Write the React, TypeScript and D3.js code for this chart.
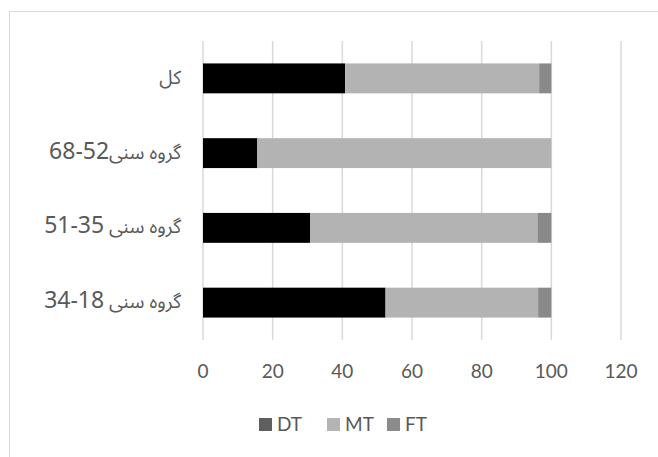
import { useEffect, useRef } from "react";
import * as d3 from "d3";

const categories = ["کل", "گروه سنی52-68", "گروه سنی 35-51", "گروه سنی 18-34"];
const seriesNames = ["DT", "MT", "FT"];
const dtValues = [40.8, 15.6, 30.8, 52.4];
const mtValues = [55.7, 84.4, 65.2, 43.8];
const ftValues = [3.5, 0, 4.0, 3.8];
const xTicks = [0, 20, 40, 60, 80, 100, 120];

const barColors = ["#000000", "#b3b3b3", "#898989"];
const legendColors = ["#5f5f5f", "#b4b4b4", "#8b8b8b"];

export default function App() {
  const ref = useRef<SVGSVGElement>(null);

  useEffect(() => {
    document.body.style.margin = "0";
    const svg = d3.select(ref.current!);
    svg.selectAll("*").remove();

    const w = 658,
      h = 457;
    const m = { top: 41, bottom: 340, left: 203, right: 621 };
    const textColor = "#595959";

    // outer frame
    svg
      .append("rect")
      .attr("x", 9.5)
      .attr("y", 11.5)
      .attr("width", w)
      .attr("height", h)
      .attr("fill", "#fff")
      .attr("stroke", "#d9d9d9");

    const x = d3.scaleLinear().domain([0, 120]).range([m.left, m.right]);
    const y = d3
      .scaleBand<string>()
      .domain(categories)
      .range([m.top, m.bottom])
      .paddingInner(0.6)
      .paddingOuter(0.3);

    /* ── GRID ─────────────────────────────── */
    svg
      .append("g")
      .selectAll("line")
      .data(xTicks)
      .join("line")
      .attr("x1", (d) => x(d))
      .attr("x2", (d) => x(d))
      .attr("y1", m.top)
      .attr("y2", m.bottom)
      .attr("stroke", "#d9d9d9")
      .attr("stroke-width", 1.5);

    svg
      .append("g")
      .selectAll("text")
      .data(xTicks)
      .join("text")
      .attr("x", (d) => x(d))
      .attr("y", 378)
      .attr("text-anchor", "middle")
      .attr("fill", textColor)
      .style("font-family", "Lato, 'Open Sans', sans-serif")
      .style("font-size", "19px")
      .text((d) => d);

    /* ── STACKED BARS ─────────────────────── */
    const rows = categories.map((c, i) => ({
      cat: c,
      DT: dtValues[i],
      MT: mtValues[i],
      FT: ftValues[i],
    }));
    const stacked = d3.stack<any>().keys(seriesNames)(rows);

    stacked.forEach((layer, si) => {
      svg
        .append("g")
        .selectAll("rect")
        .data(layer)
        .join("rect")
        .attr("x", (d) => x(d[0]))
        .attr("y", (d) => y(d.data.cat)!)
        .attr("width", (d) => x(d[1]) - x(d[0]))
        .attr("height", y.bandwidth())
        .attr("fill", barColors[si]);
    });

    // category labels: persian words a bit smaller than the digits
    const labels = svg
      .append("g")
      .selectAll("text")
      .data(categories)
      .join("text")
      .attr("x", 181)
      .attr("y", (d) => y(d)! + y.bandwidth() / 2)
      .attr("dy", "0.35em")
      .attr("direction", "rtl")
      .attr("text-anchor", "start")
      .attr("fill", textColor)
      .style("font-family", "'Noto Sans Arabic', 'Liberation Sans', Arial, sans-serif");
    labels.each(function (d) {
      const parts = d.match(/[^0-9]+|[0-9][0-9\-]*/g) || [d];
      const t = d3.select(this);
      parts.forEach((p) => {
        t.append("tspan")
          .style("font-size", /[0-9]/.test(p) ? "23px" : "19px")
          .text(p);
      });
    });

    /* ── LEGEND ───────────────────────────── */
    const legendX = [259, 327, 387];
    const lg = svg
      .append("g")
      .selectAll("g")
      .data(seriesNames)
      .join("g")
      .attr("transform", (_, i) => `translate(${legendX[i]},418)`);
    lg.append("rect")
      .attr("width", 13)
      .attr("height", 13)
      .attr("fill", (_, i) => legendColors[i]);
    lg.append("text")
      .attr("x", 18)
      .attr("y", 13)
      .attr("fill", textColor)
      .style("font-family", "Lato, 'Open Sans', sans-serif")
      .style("font-size", "19px")
      .text((d) => d);
  }, []);

  return (
    <svg
      ref={ref}
      width={658}
      height={457}
      style={{ position: "absolute", left: 0, top: 0, background: "#fff" }}
    />
  );
}
